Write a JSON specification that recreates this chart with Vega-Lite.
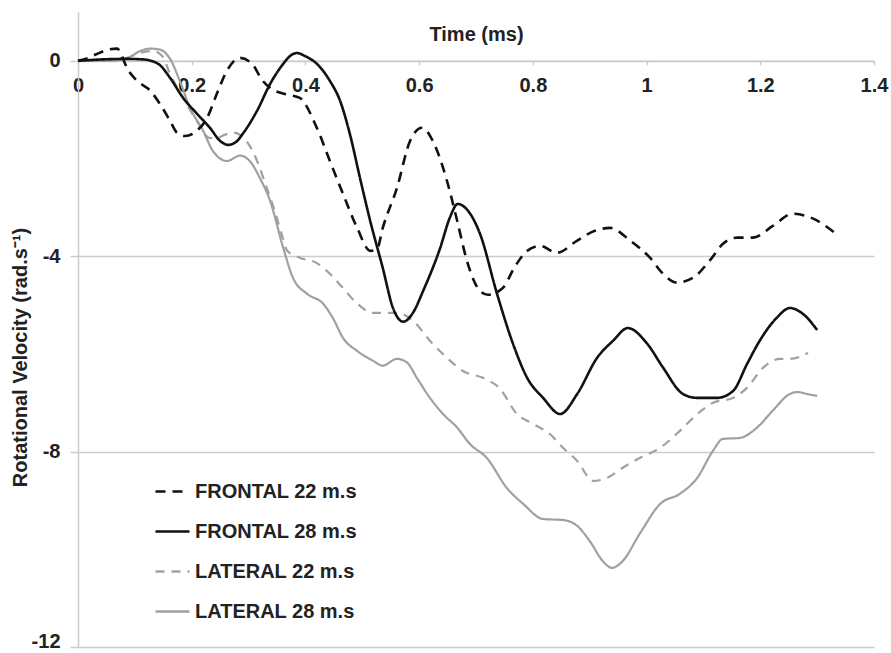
{
  "$schema": "https://vega.github.io/schema/vega-lite/v6.json",
  "width": 796,
  "height": 635,
  "autosize": "none",
  "padding": {"left": 78, "top": 12, "right": 17, "bottom": 6},
  "background": "white",
  "config": {
    "view": {"stroke": null},
    "font": "Liberation Sans",
    "legend": {
      "orient": "none",
      "legendX": 76,
      "legendY": 461,
      "title": null,
      "padding": 0,
      "symbolType": "stroke",
      "symbolSize": 1156,
      "symbolStrokeWidth": 2.5,
      "labelFont": "Liberation Sans",
      "labelFontSize": 20,
      "labelFontWeight": "bold",
      "labelColor": "#222222",
      "labelOffset": 4,
      "labelLimit": 0,
      "rowPadding": 11
    }
  },
  "data": {
    "values": [
      {"s": "FRONTAL 22 m.s", "t": 0, "v": 0},
      {"s": "FRONTAL 22 m.s", "t": 0.018, "v": 0.06},
      {"s": "FRONTAL 22 m.s", "t": 0.033, "v": 0.14},
      {"s": "FRONTAL 22 m.s", "t": 0.053, "v": 0.23},
      {"s": "FRONTAL 22 m.s", "t": 0.069, "v": 0.25},
      {"s": "FRONTAL 22 m.s", "t": 0.077, "v": 0.1},
      {"s": "FRONTAL 22 m.s", "t": 0.086, "v": -0.14},
      {"s": "FRONTAL 22 m.s", "t": 0.104, "v": -0.41},
      {"s": "FRONTAL 22 m.s", "t": 0.127, "v": -0.61},
      {"s": "FRONTAL 22 m.s", "t": 0.144, "v": -0.88},
      {"s": "FRONTAL 22 m.s", "t": 0.162, "v": -1.23},
      {"s": "FRONTAL 22 m.s", "t": 0.174, "v": -1.47},
      {"s": "FRONTAL 22 m.s", "t": 0.188, "v": -1.54},
      {"s": "FRONTAL 22 m.s", "t": 0.209, "v": -1.43},
      {"s": "FRONTAL 22 m.s", "t": 0.227, "v": -1.17},
      {"s": "FRONTAL 22 m.s", "t": 0.244, "v": -0.68},
      {"s": "FRONTAL 22 m.s", "t": 0.262, "v": -0.2},
      {"s": "FRONTAL 22 m.s", "t": 0.285, "v": 0.06},
      {"s": "FRONTAL 22 m.s", "t": 0.306, "v": -0.06},
      {"s": "FRONTAL 22 m.s", "t": 0.325, "v": -0.41},
      {"s": "FRONTAL 22 m.s", "t": 0.346, "v": -0.61},
      {"s": "FRONTAL 22 m.s", "t": 0.364, "v": -0.68},
      {"s": "FRONTAL 22 m.s", "t": 0.39, "v": -0.76},
      {"s": "FRONTAL 22 m.s", "t": 0.42, "v": -1.37},
      {"s": "FRONTAL 22 m.s", "t": 0.443, "v": -2.05},
      {"s": "FRONTAL 22 m.s", "t": 0.466, "v": -2.72},
      {"s": "FRONTAL 22 m.s", "t": 0.491, "v": -3.42},
      {"s": "FRONTAL 22 m.s", "t": 0.514, "v": -3.89},
      {"s": "FRONTAL 22 m.s", "t": 0.526, "v": -3.85},
      {"s": "FRONTAL 22 m.s", "t": 0.536, "v": -3.42},
      {"s": "FRONTAL 22 m.s", "t": 0.561, "v": -2.6},
      {"s": "FRONTAL 22 m.s", "t": 0.584, "v": -1.64},
      {"s": "FRONTAL 22 m.s", "t": 0.605, "v": -1.37},
      {"s": "FRONTAL 22 m.s", "t": 0.624, "v": -1.64},
      {"s": "FRONTAL 22 m.s", "t": 0.649, "v": -2.46},
      {"s": "FRONTAL 22 m.s", "t": 0.667, "v": -3.28},
      {"s": "FRONTAL 22 m.s", "t": 0.684, "v": -4.09},
      {"s": "FRONTAL 22 m.s", "t": 0.707, "v": -4.71},
      {"s": "FRONTAL 22 m.s", "t": 0.721, "v": -4.79},
      {"s": "FRONTAL 22 m.s", "t": 0.747, "v": -4.65},
      {"s": "FRONTAL 22 m.s", "t": 0.769, "v": -4.2},
      {"s": "FRONTAL 22 m.s", "t": 0.79, "v": -3.89},
      {"s": "FRONTAL 22 m.s", "t": 0.813, "v": -3.79},
      {"s": "FRONTAL 22 m.s", "t": 0.842, "v": -3.93},
      {"s": "FRONTAL 22 m.s", "t": 0.878, "v": -3.68},
      {"s": "FRONTAL 22 m.s", "t": 0.909, "v": -3.48},
      {"s": "FRONTAL 22 m.s", "t": 0.936, "v": -3.42},
      {"s": "FRONTAL 22 m.s", "t": 0.971, "v": -3.68},
      {"s": "FRONTAL 22 m.s", "t": 1.006, "v": -4.03},
      {"s": "FRONTAL 22 m.s", "t": 1.029, "v": -4.36},
      {"s": "FRONTAL 22 m.s", "t": 1.053, "v": -4.54},
      {"s": "FRONTAL 22 m.s", "t": 1.082, "v": -4.44},
      {"s": "FRONTAL 22 m.s", "t": 1.111, "v": -4.09},
      {"s": "FRONTAL 22 m.s", "t": 1.134, "v": -3.75},
      {"s": "FRONTAL 22 m.s", "t": 1.159, "v": -3.62},
      {"s": "FRONTAL 22 m.s", "t": 1.187, "v": -3.62},
      {"s": "FRONTAL 22 m.s", "t": 1.222, "v": -3.38},
      {"s": "FRONTAL 22 m.s", "t": 1.257, "v": -3.13},
      {"s": "FRONTAL 22 m.s", "t": 1.293, "v": -3.23},
      {"s": "FRONTAL 22 m.s", "t": 1.331, "v": -3.52},

      {"s": "FRONTAL 28 m.s", "t": 0, "v": 0},
      {"s": "FRONTAL 28 m.s", "t": 0.044, "v": 0.03},
      {"s": "FRONTAL 28 m.s", "t": 0.083, "v": 0.04},
      {"s": "FRONTAL 28 m.s", "t": 0.114, "v": 0.03},
      {"s": "FRONTAL 28 m.s", "t": 0.141, "v": -0.06},
      {"s": "FRONTAL 28 m.s", "t": 0.162, "v": -0.35},
      {"s": "FRONTAL 28 m.s", "t": 0.185, "v": -0.76},
      {"s": "FRONTAL 28 m.s", "t": 0.209, "v": -1.08},
      {"s": "FRONTAL 28 m.s", "t": 0.232, "v": -1.37},
      {"s": "FRONTAL 28 m.s", "t": 0.25, "v": -1.64},
      {"s": "FRONTAL 28 m.s", "t": 0.264, "v": -1.72},
      {"s": "FRONTAL 28 m.s", "t": 0.278, "v": -1.66},
      {"s": "FRONTAL 28 m.s", "t": 0.29, "v": -1.49},
      {"s": "FRONTAL 28 m.s", "t": 0.315, "v": -1.02},
      {"s": "FRONTAL 28 m.s", "t": 0.338, "v": -0.47},
      {"s": "FRONTAL 28 m.s", "t": 0.361, "v": -0.06},
      {"s": "FRONTAL 28 m.s", "t": 0.373, "v": 0.1},
      {"s": "FRONTAL 28 m.s", "t": 0.385, "v": 0.16},
      {"s": "FRONTAL 28 m.s", "t": 0.399, "v": 0.1},
      {"s": "FRONTAL 28 m.s", "t": 0.42, "v": -0.06},
      {"s": "FRONTAL 28 m.s", "t": 0.443, "v": -0.41},
      {"s": "FRONTAL 28 m.s", "t": 0.461, "v": -0.82},
      {"s": "FRONTAL 28 m.s", "t": 0.478, "v": -1.49},
      {"s": "FRONTAL 28 m.s", "t": 0.496, "v": -2.4},
      {"s": "FRONTAL 28 m.s", "t": 0.514, "v": -3.28},
      {"s": "FRONTAL 28 m.s", "t": 0.536, "v": -4.24},
      {"s": "FRONTAL 28 m.s", "t": 0.554, "v": -5.06},
      {"s": "FRONTAL 28 m.s", "t": 0.572, "v": -5.34},
      {"s": "FRONTAL 28 m.s", "t": 0.589, "v": -5.16},
      {"s": "FRONTAL 28 m.s", "t": 0.607, "v": -4.71},
      {"s": "FRONTAL 28 m.s", "t": 0.637, "v": -3.83},
      {"s": "FRONTAL 28 m.s", "t": 0.654, "v": -3.21},
      {"s": "FRONTAL 28 m.s", "t": 0.668, "v": -2.93},
      {"s": "FRONTAL 28 m.s", "t": 0.686, "v": -3.07},
      {"s": "FRONTAL 28 m.s", "t": 0.707, "v": -3.54},
      {"s": "FRONTAL 28 m.s", "t": 0.737, "v": -4.77},
      {"s": "FRONTAL 28 m.s", "t": 0.765, "v": -5.79},
      {"s": "FRONTAL 28 m.s", "t": 0.79, "v": -6.49},
      {"s": "FRONTAL 28 m.s", "t": 0.818, "v": -6.9},
      {"s": "FRONTAL 28 m.s", "t": 0.848, "v": -7.23},
      {"s": "FRONTAL 28 m.s", "t": 0.878, "v": -6.82},
      {"s": "FRONTAL 28 m.s", "t": 0.913, "v": -6.08},
      {"s": "FRONTAL 28 m.s", "t": 0.941, "v": -5.73},
      {"s": "FRONTAL 28 m.s", "t": 0.967, "v": -5.47},
      {"s": "FRONTAL 28 m.s", "t": 1.001, "v": -5.79},
      {"s": "FRONTAL 28 m.s", "t": 1.029, "v": -6.28},
      {"s": "FRONTAL 28 m.s", "t": 1.064, "v": -6.82},
      {"s": "FRONTAL 28 m.s", "t": 1.089, "v": -6.9},
      {"s": "FRONTAL 28 m.s", "t": 1.124, "v": -6.9},
      {"s": "FRONTAL 28 m.s", "t": 1.152, "v": -6.76},
      {"s": "FRONTAL 28 m.s", "t": 1.177, "v": -6.2},
      {"s": "FRONTAL 28 m.s", "t": 1.199, "v": -5.73},
      {"s": "FRONTAL 28 m.s", "t": 1.229, "v": -5.26},
      {"s": "FRONTAL 28 m.s", "t": 1.252, "v": -5.06},
      {"s": "FRONTAL 28 m.s", "t": 1.275, "v": -5.18},
      {"s": "FRONTAL 28 m.s", "t": 1.3, "v": -5.51},

      {"s": "LATERAL 22 m.s", "t": 0, "v": 0},
      {"s": "LATERAL 22 m.s", "t": 0.056, "v": 0},
      {"s": "LATERAL 22 m.s", "t": 0.091, "v": 0.08},
      {"s": "LATERAL 22 m.s", "t": 0.109, "v": 0.16},
      {"s": "LATERAL 22 m.s", "t": 0.132, "v": 0.2},
      {"s": "LATERAL 22 m.s", "t": 0.148, "v": 0.1},
      {"s": "LATERAL 22 m.s", "t": 0.162, "v": -0.27},
      {"s": "LATERAL 22 m.s", "t": 0.185, "v": -0.76},
      {"s": "LATERAL 22 m.s", "t": 0.209, "v": -1.23},
      {"s": "LATERAL 22 m.s", "t": 0.232, "v": -1.58},
      {"s": "LATERAL 22 m.s", "t": 0.244, "v": -1.58},
      {"s": "LATERAL 22 m.s", "t": 0.259, "v": -1.51},
      {"s": "LATERAL 22 m.s", "t": 0.273, "v": -1.47},
      {"s": "LATERAL 22 m.s", "t": 0.288, "v": -1.54},
      {"s": "LATERAL 22 m.s", "t": 0.302, "v": -1.74},
      {"s": "LATERAL 22 m.s", "t": 0.315, "v": -2.05},
      {"s": "LATERAL 22 m.s", "t": 0.332, "v": -2.6},
      {"s": "LATERAL 22 m.s", "t": 0.346, "v": -3.07},
      {"s": "LATERAL 22 m.s", "t": 0.359, "v": -3.58},
      {"s": "LATERAL 22 m.s", "t": 0.368, "v": -3.89},
      {"s": "LATERAL 22 m.s", "t": 0.39, "v": -4.03},
      {"s": "LATERAL 22 m.s", "t": 0.42, "v": -4.14},
      {"s": "LATERAL 22 m.s", "t": 0.443, "v": -4.36},
      {"s": "LATERAL 22 m.s", "t": 0.466, "v": -4.65},
      {"s": "LATERAL 22 m.s", "t": 0.491, "v": -4.97},
      {"s": "LATERAL 22 m.s", "t": 0.519, "v": -5.16},
      {"s": "LATERAL 22 m.s", "t": 0.561, "v": -5.16},
      {"s": "LATERAL 22 m.s", "t": 0.589, "v": -5.32},
      {"s": "LATERAL 22 m.s", "t": 0.619, "v": -5.73},
      {"s": "LATERAL 22 m.s", "t": 0.649, "v": -6.08},
      {"s": "LATERAL 22 m.s", "t": 0.677, "v": -6.35},
      {"s": "LATERAL 22 m.s", "t": 0.712, "v": -6.49},
      {"s": "LATERAL 22 m.s", "t": 0.742, "v": -6.71},
      {"s": "LATERAL 22 m.s", "t": 0.772, "v": -7.23},
      {"s": "LATERAL 22 m.s", "t": 0.8, "v": -7.43},
      {"s": "LATERAL 22 m.s", "t": 0.83, "v": -7.64},
      {"s": "LATERAL 22 m.s", "t": 0.853, "v": -7.92},
      {"s": "LATERAL 22 m.s", "t": 0.878, "v": -8.19},
      {"s": "LATERAL 22 m.s", "t": 0.906, "v": -8.6},
      {"s": "LATERAL 22 m.s", "t": 0.93, "v": -8.54},
      {"s": "LATERAL 22 m.s", "t": 0.958, "v": -8.33},
      {"s": "LATERAL 22 m.s", "t": 0.988, "v": -8.13},
      {"s": "LATERAL 22 m.s", "t": 1.024, "v": -7.92},
      {"s": "LATERAL 22 m.s", "t": 1.059, "v": -7.57},
      {"s": "LATERAL 22 m.s", "t": 1.089, "v": -7.23},
      {"s": "LATERAL 22 m.s", "t": 1.117, "v": -7.0},
      {"s": "LATERAL 22 m.s", "t": 1.152, "v": -6.9},
      {"s": "LATERAL 22 m.s", "t": 1.177, "v": -6.69},
      {"s": "LATERAL 22 m.s", "t": 1.205, "v": -6.28},
      {"s": "LATERAL 22 m.s", "t": 1.235, "v": -6.1},
      {"s": "LATERAL 22 m.s", "t": 1.252, "v": -6.1},
      {"s": "LATERAL 22 m.s", "t": 1.284, "v": -5.98},

      {"s": "LATERAL 28 m.s", "t": 0, "v": 0},
      {"s": "LATERAL 28 m.s", "t": 0.056, "v": 0},
      {"s": "LATERAL 28 m.s", "t": 0.091, "v": 0.08},
      {"s": "LATERAL 28 m.s", "t": 0.109, "v": 0.2},
      {"s": "LATERAL 28 m.s", "t": 0.127, "v": 0.25},
      {"s": "LATERAL 28 m.s", "t": 0.144, "v": 0.23},
      {"s": "LATERAL 28 m.s", "t": 0.162, "v": 0.04},
      {"s": "LATERAL 28 m.s", "t": 0.179, "v": -0.41},
      {"s": "LATERAL 28 m.s", "t": 0.197, "v": -0.96},
      {"s": "LATERAL 28 m.s", "t": 0.22, "v": -1.43},
      {"s": "LATERAL 28 m.s", "t": 0.237, "v": -1.84},
      {"s": "LATERAL 28 m.s", "t": 0.262, "v": -2.05},
      {"s": "LATERAL 28 m.s", "t": 0.285, "v": -1.94},
      {"s": "LATERAL 28 m.s", "t": 0.302, "v": -2.05},
      {"s": "LATERAL 28 m.s", "t": 0.32, "v": -2.4},
      {"s": "LATERAL 28 m.s", "t": 0.338, "v": -2.87},
      {"s": "LATERAL 28 m.s", "t": 0.361, "v": -3.83},
      {"s": "LATERAL 28 m.s", "t": 0.378, "v": -4.44},
      {"s": "LATERAL 28 m.s", "t": 0.403, "v": -4.77},
      {"s": "LATERAL 28 m.s", "t": 0.431, "v": -4.97},
      {"s": "LATERAL 28 m.s", "t": 0.448, "v": -5.26},
      {"s": "LATERAL 28 m.s", "t": 0.466, "v": -5.67},
      {"s": "LATERAL 28 m.s", "t": 0.491, "v": -5.94},
      {"s": "LATERAL 28 m.s", "t": 0.519, "v": -6.14},
      {"s": "LATERAL 28 m.s", "t": 0.536, "v": -6.24},
      {"s": "LATERAL 28 m.s", "t": 0.561, "v": -6.1},
      {"s": "LATERAL 28 m.s", "t": 0.579, "v": -6.18},
      {"s": "LATERAL 28 m.s", "t": 0.596, "v": -6.49},
      {"s": "LATERAL 28 m.s", "t": 0.619, "v": -6.9},
      {"s": "LATERAL 28 m.s", "t": 0.642, "v": -7.23},
      {"s": "LATERAL 28 m.s", "t": 0.667, "v": -7.51},
      {"s": "LATERAL 28 m.s", "t": 0.689, "v": -7.84},
      {"s": "LATERAL 28 m.s", "t": 0.719, "v": -8.13},
      {"s": "LATERAL 28 m.s", "t": 0.754, "v": -8.74},
      {"s": "LATERAL 28 m.s", "t": 0.783, "v": -9.07},
      {"s": "LATERAL 28 m.s", "t": 0.818, "v": -9.38},
      {"s": "LATERAL 28 m.s", "t": 0.853, "v": -9.4},
      {"s": "LATERAL 28 m.s", "t": 0.878, "v": -9.52},
      {"s": "LATERAL 28 m.s", "t": 0.9, "v": -9.83},
      {"s": "LATERAL 28 m.s", "t": 0.923, "v": -10.24},
      {"s": "LATERAL 28 m.s", "t": 0.939, "v": -10.38},
      {"s": "LATERAL 28 m.s", "t": 0.958, "v": -10.24},
      {"s": "LATERAL 28 m.s", "t": 0.988, "v": -9.68},
      {"s": "LATERAL 28 m.s", "t": 1.024, "v": -9.07},
      {"s": "LATERAL 28 m.s", "t": 1.059, "v": -8.86},
      {"s": "LATERAL 28 m.s", "t": 1.089, "v": -8.54},
      {"s": "LATERAL 28 m.s", "t": 1.117, "v": -7.98},
      {"s": "LATERAL 28 m.s", "t": 1.134, "v": -7.74},
      {"s": "LATERAL 28 m.s", "t": 1.164, "v": -7.72},
      {"s": "LATERAL 28 m.s", "t": 1.194, "v": -7.51},
      {"s": "LATERAL 28 m.s", "t": 1.222, "v": -7.16},
      {"s": "LATERAL 28 m.s", "t": 1.252, "v": -6.82},
      {"s": "LATERAL 28 m.s", "t": 1.266, "v": -6.78},
      {"s": "LATERAL 28 m.s", "t": 1.282, "v": -6.82},
      {"s": "LATERAL 28 m.s", "t": 1.3, "v": -6.86}
    ]
  },
  "encoding": {
    "x": {
      "field": "t",
      "type": "quantitative",
      "scale": {"domain": [0, 1.4], "nice": false, "zero": false},
      "axis": {
        "orient": "bottom",
        "offset": -586.15,
        "values": [0, 0.2, 0.4, 0.6, 0.8, 1, 1.2, 1.4],
        "labelExpr": "'' + datum.value",
        "grid": false,
        "domainColor": "#cccccc",
        "domainWidth": 1.5,
        "tickColor": "#cccccc",
        "tickWidth": 1.5,
        "tickSize": 4,
        "labelFont": "Liberation Sans",
        "labelFontSize": 20,
        "labelFontWeight": "bold",
        "labelColor": "#222222",
        "labelPadding": 11,
        "labelFlush": false,
        "labelOverlap": false,
        "title": "Time (ms)",
        "titleFont": "Liberation Sans",
        "titleFontSize": 20,
        "titleFontWeight": "bold",
        "titleColor": "#222222",
        "titleY": -20,
        "titleBaseline": "alphabetic"
      }
    },
    "y": {
      "field": "v",
      "type": "quantitative",
      "scale": {"domain": [-12, 1], "nice": false, "zero": false},
      "axis": {
        "values": [0, -4, -8, -12],
        "labelExpr": "datum.value == 0 ? '0' : '-' + abs(datum.value)",
        "labelBaseline": {"condition": {"test": "datum.value == -12", "value": "alphabetic"}, "value": "middle"},
        "grid": true,
        "gridColor": "#cccccc",
        "gridWidth": 1.5,
        "domainColor": "#cccccc",
        "domainWidth": 1.5,
        "tickColor": "#cccccc",
        "tickWidth": 1.5,
        "tickSize": 8,
        "labelFont": "Liberation Sans",
        "labelFontSize": 20,
        "labelFontWeight": "bold",
        "labelColor": "#222222",
        "labelPadding": 10,
        "title": "Rotational Velocity (rad.s⁻¹)",
        "titleFont": "Liberation Sans",
        "titleFontSize": 20,
        "titleFontWeight": "bold",
        "titleColor": "#222222",
        "titleX": -58,
        "titleY": 345,
        "titleBaseline": "middle"
      }
    },
    "color": {
      "field": "s",
      "type": "nominal",
      "scale": {
        "domain": ["FRONTAL 22 m.s", "FRONTAL 28 m.s", "LATERAL 22 m.s", "LATERAL 28 m.s"],
        "range": ["#111111", "#111111", "#a0a0a0", "#a0a0a0"]
      }
    },
    "strokeDash": {
      "field": "s",
      "type": "nominal",
      "scale": {
        "domain": ["FRONTAL 22 m.s", "FRONTAL 28 m.s", "LATERAL 22 m.s", "LATERAL 28 m.s"],
        "range": [[10, 7], [1, 0], [9, 7], [1, 0]]
      }
    },
    "order": {"field": "t", "type": "quantitative"}
  },
  "layer": [
    {
      "transform": [{"filter": "indexof(datum.s, 'LATERAL') == 0"}],
      "mark": {"type": "line", "strokeWidth": 2.2, "interpolate": "monotone"}
    },
    {
      "transform": [{"filter": "indexof(datum.s, 'FRONTAL') == 0"}],
      "mark": {"type": "line", "strokeWidth": 2.6, "interpolate": "monotone"}
    }
  ]
}
